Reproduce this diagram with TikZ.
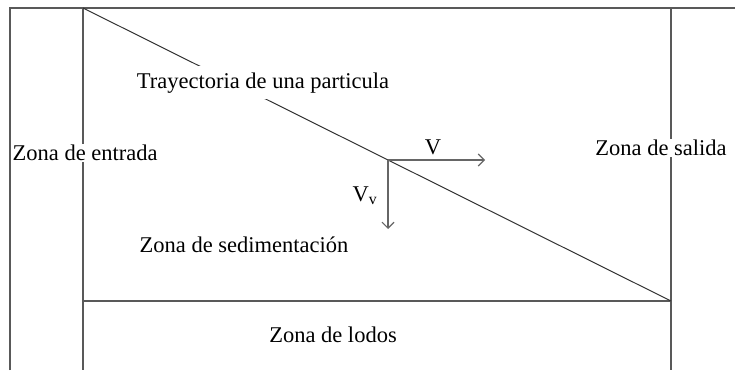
\documentclass[tikz,border=0pt]{standalone}
\usepackage{fontspec}
\setmainfont{Liberation Serif}
\usetikzlibrary{arrows.meta,backgrounds}
\begin{document}
\begin{tikzpicture}[x=1pt,y=-1pt,
  ln/.style={draw=black!65,line width=1.3pt},
  diag/.style={draw=black!80,line width=1pt},
  vec/.style={draw=black!60,line width=1.3pt,-{Straight Barb[length=6pt,width=12pt,line width=1.1pt]}},
  lbl/.style={font=\fontsize{22.5}{26}\selectfont,inner sep=1.5pt,fill=white}]
\useasboundingbox (0,0) rectangle (735,370);
% labels
\node[lbl,anchor=base,inner ysep=6pt] (tray) at (263,88) {Trayectoria de una particula};
\node[lbl,anchor=west] (ent) at (11,153) {Zona de entrada};
\node[lbl] (sal) at (661,148) {Zona de salida};
\node[lbl,inner sep=0pt] (v) at (433,147) {V};
\node[lbl,inner sep=0pt] (vvl) at (365,196) {V\textsubscript{v}};
\node[lbl] (sed) at (244,245) {Zona de sedimentación};
\node[lbl] (lod) at (333,335) {Zona de lodos};
% frame points
\coordinate (tl) at (10,8);
\coordinate (tr) at (735,8);
\coordinate (bl) at (10,370);
\coordinate (itl) at (83,8);
\coordinate (ibl) at (83,370);
\coordinate (rt) at (671,8);
\coordinate (rb) at (671,370);
\coordinate (sl) at (83,301);
\coordinate (sr) at (671,301);
\coordinate (p) at (388,160);
\coordinate (vh) at (485,160);
\coordinate (vv) at (388,229);
\begin{scope}[on background layer]
\draw[ln] (bl) -- (tl) -- (tr);
\draw[ln] (itl) -- (ibl);
\draw[ln] (rt) -- (rb);
\draw[ln] (sl) -- (sr);
\draw[diag] (itl) -- (sr);
\end{scope}
\draw[vec] (p) -- (vh);
\draw[vec] (p) -- (vv);
\end{tikzpicture}
\end{document}
